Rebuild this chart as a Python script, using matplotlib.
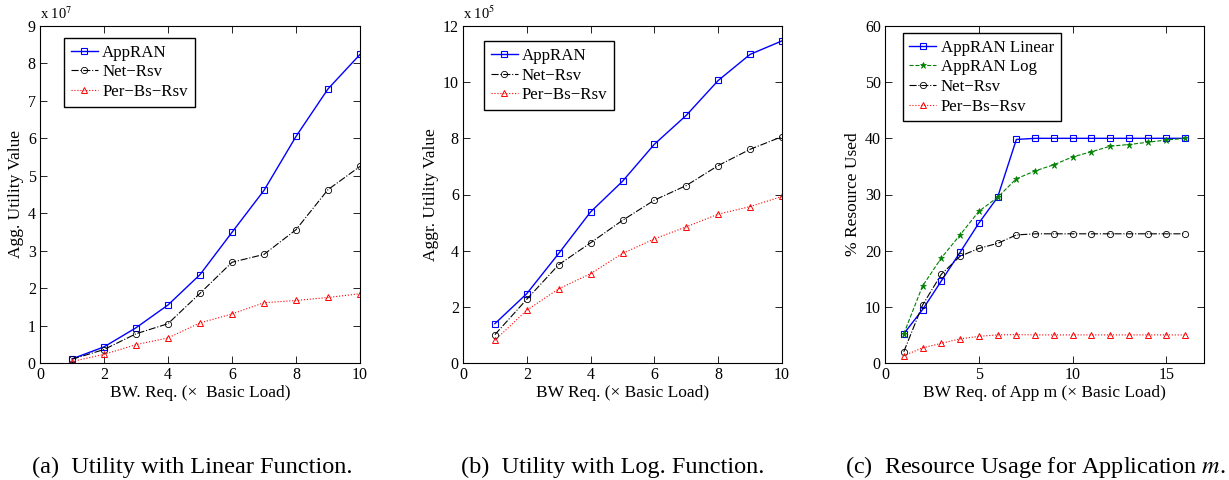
import numpy as np
import matplotlib.pyplot as plt
from matplotlib.ticker import FuncFormatter

plt.rcParams['font.family'] = ['Liberation Serif', 'DejaVu Serif']
plt.rcParams['mathtext.fontset'] = 'stix'

# (a) utility with linear function, x 1e7
load_a = np.arange(1, 11)
appran_a = np.array([0.11, 0.43, 0.94, 1.55, 2.36, 3.49, 4.61, 6.05, 7.32, 8.24]) * 1e7
netrsv_a = np.array([0.10, 0.36, 0.78, 1.05, 1.86, 2.69, 2.90, 3.56, 4.63, 5.25]) * 1e7
perbs_a = np.array([0.04, 0.23, 0.49, 0.67, 1.07, 1.31, 1.61, 1.67, 1.75, 1.85]) * 1e7

# (b) utility with log function, x 1e5
load_b = np.arange(1, 11)
appran_b = np.array([1.40, 2.47, 3.90, 5.38, 6.47, 7.79, 8.82, 10.06, 10.99, 11.47]) * 1e5
netrsv_b = np.array([1.01, 2.27, 3.50, 4.28, 5.08, 5.80, 6.32, 7.03, 7.61, 8.06]) * 1e5
perbs_b = np.array([0.81, 1.88, 2.64, 3.18, 3.90, 4.42, 4.85, 5.30, 5.57, 5.93]) * 1e5

# (c) resource usage for application m (%)
load_c = np.arange(1, 17)
appran_lin = [5.2, 9.5, 14.6, 19.7, 24.9, 29.5, 39.8, 40, 40, 40, 40, 40, 40, 40, 40, 40]
appran_log = [5.2, 13.7, 18.7, 22.8, 27.0, 29.5, 32.8, 34.2, 35.3, 36.7, 37.6, 38.6, 38.9, 39.3, 39.7, 40.0]
netrsv_c = [2.0, 10.3, 15.8, 19.0, 20.4, 21.3, 22.8, 23.0, 23.0, 23.0, 23.0, 23.0, 23.0, 23.0, 23.0, 23.0]
perbs_c = [1.3, 2.7, 3.5, 4.3, 4.75, 5.0, 5.05, 5.0, 5.0, 5.0, 5.0, 5.0, 5.0, 5.0, 5.0, 5.0]

fig = plt.figure(figsize=(12.29, 4.8), dpi=100)
W, H = 1229.0, 480.0


def make_ax(left, right, top=26, bottom=363):
    ax = fig.add_axes([left / W, 1 - bottom / H, (right - left) / W, (bottom - top) / H])
    ax.tick_params(direction='in', top=True, right=True, labelsize=11.5, length=5, width=0.6, pad=3)
    for s in ax.spines.values():
        s.set_linewidth(0.8)
    return ax


def scaled(power):
    return FuncFormatter(lambda v, p: '%g' % (v / 10 ** power))


sty_app = dict(color='#0000ff', ls='-', lw=1.0, marker='s', ms=4, mfc='none', mew=0.8)
sty_net = dict(color='black', ls='-.', lw=0.8, marker='o', ms=4.5, mfc='none', mew=0.6)
sty_per = dict(color='#ff0000', ls=':', lw=0.8, marker='^', ms=4.5, mfc='none', mew=0.7)
sty_log = dict(color='#008000', ls='--', lw=0.8, marker='*', ms=4.5, mew=0.5)

leg_kw = dict(loc='upper left', fancybox=False, edgecolor='black', framealpha=1,
              fontsize=12.2, handlelength=1.6, handletextpad=0.25, borderpad=0.4,
              labelspacing=0.22, borderaxespad=0)

# panel a
ax1 = make_ax(40, 360)
ax1.plot(load_a, appran_a, label='AppRAN', **sty_app)
ax1.plot(load_a, netrsv_a, label='Net\u2212Rsv', **sty_net)
ax1.plot(load_a, perbs_a, label='Per\u2212Bs\u2212Rsv', **sty_per)
ax1.set_xlim(0, 10)
ax1.set_ylim(0, 9e7)
ax1.set_xticks([0, 2, 4, 6, 8, 10])
ax1.set_yticks(np.arange(0, 10) * 1e7)
ax1.yaxis.set_major_formatter(scaled(7))
ax1.text(0, 1.012, 'x 10$^{7}$', transform=ax1.transAxes, fontsize=10.5, va='bottom')
ax1.set_xlabel('BW. Req. (\u00d7  Basic Load)', fontsize=12.5, labelpad=1)
ax1.set_ylabel('Agg. Utility Value', fontsize=12.5, labelpad=3)
ax1.legend(bbox_to_anchor=(0.075, 0.965), **leg_kw)

# panel b
ax2 = make_ax(463, 782)
ax2.plot(load_b, appran_b, label='AppRAN', **sty_app)
ax2.plot(load_b, netrsv_b, label='Net\u2212Rsv', **sty_net)
ax2.plot(load_b, perbs_b, label='Per\u2212Bs\u2212Rsv', **sty_per)
ax2.set_xlim(0, 10)
ax2.set_ylim(0, 12e5)
ax2.set_xticks([0, 2, 4, 6, 8, 10])
ax2.set_yticks(np.arange(0, 13, 2) * 1e5)
ax2.yaxis.set_major_formatter(scaled(5))
ax2.text(0, 1.012, 'x 10$^{5}$', transform=ax2.transAxes, fontsize=10.5, va='bottom')
ax2.set_xlabel('BW Req. (\u00d7 Basic Load)', fontsize=12.5, labelpad=1)
ax2.set_ylabel('Aggr. Utility Value', fontsize=12.5, labelpad=3)
ax2.legend(bbox_to_anchor=(0.065, 0.955), **leg_kw)

# panel c
ax3 = make_ax(885, 1204)
ax3.plot(load_c, appran_lin, label='AppRAN Linear', **sty_app)
ax3.plot(load_c, appran_log, label='AppRAN Log', **sty_log)
ax3.plot(load_c, netrsv_c, label='Net\u2212Rsv', **sty_net)
ax3.plot(load_c, perbs_c, label='Per\u2212Bs\u2212Rsv', **sty_per)
ax3.set_xlim(0, 17)
ax3.set_ylim(0, 60)
ax3.set_xticks([0, 5, 10, 15])
ax3.set_yticks(np.arange(0, 61, 10))
ax3.set_xlabel('BW Req. of App m (\u00d7 Basic Load)', fontsize=12.5, labelpad=1)
ax3.set_ylabel('% Resource Used', fontsize=12.5, labelpad=3)
ax3.legend(bbox_to_anchor=(0.055, 0.98), **leg_kw)

# captions
fig.text(192 / W, 1 - 467 / H, '(a)  Utility with Linear Function.', ha='center', va='center', fontsize=17.5)
fig.text(613 / W, 1 - 467 / H, '(b)  Utility with Log. Function.', ha='center', va='center', fontsize=17.5)
fig.text(1035 / W, 1 - 467 / H, '(c)  Resource Usage for Application $m$.', ha='center', va='center', fontsize=17.5)

fig.savefig('out.png', dpi=100)
